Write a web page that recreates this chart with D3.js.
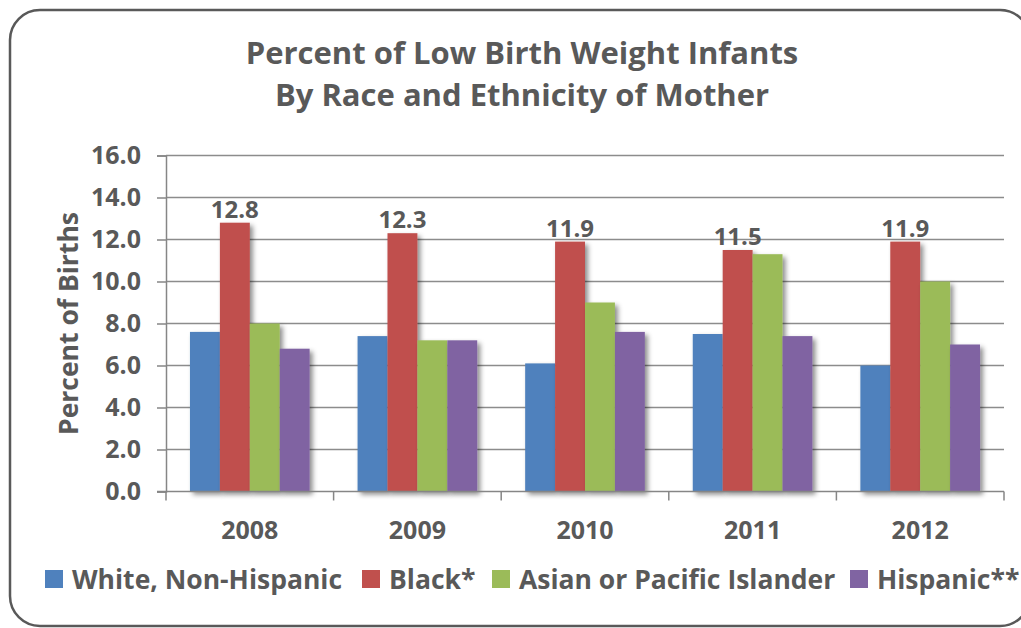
<!DOCTYPE html>
<html>
<head>
<meta charset="utf-8">
<script src="https://cdn.jsdelivr.net/npm/d3@7"></script>
<style>
  body { margin: 0; background: #fff; }
  text { font-family: "Open Sans", Lato, sans-serif; font-weight: bold; fill: #595959; }
</style>
</head>
<body>
<script>
const years = ['2008', '2009', '2010', '2011', '2012'];
const seriesNames = ['White, Non-Hispanic', 'Black*', 'Asian or Pacific Islander', 'Hispanic**'];
const white = [7.6, 7.4, 6.1, 7.5, 6.0];
const black = [12.8, 12.3, 11.9, 11.5, 11.9];
const asian = [8.0, 7.2, 9.0, 11.3, 10.0];
const hispanic = [6.8, 7.2, 7.6, 7.4, 7.0];
const yTicks = [0, 2, 4, 6, 8, 10, 12, 14, 16];
const colors = ['#4F81BD', '#C0504D', '#9BBB59', '#8064A2'];

const seriesValues = [white, black, asian, hispanic];
const data = years.map((y, i) => ({
  year: y,
  values: seriesNames.map((s, j) => ({ series: s, idx: j, value: seriesValues[j][i] }))
}));

const width = 1021;
const height = 628;
const plot = { left: 166, right: 1004, top: 155.5, bottom: 491.5 };

const svg = d3.select('body').append('svg')
  .attr('width', width)
  .attr('height', height);

const defs = svg.append('defs');
defs.append('filter')
  .attr('id', 'shadow')
  .attr('x', '-20%').attr('y', '-20%')
  .attr('width', '150%').attr('height', '150%')
  .append('feDropShadow')
  .attr('dx', 3).attr('dy', 3)
  .attr('stdDeviation', 2.5)
  .attr('flood-color', '#000')
  .attr('flood-opacity', 0.45);

// frame
svg.append('rect')
  .attr('x', 10).attr('y', 10)
  .attr('width', 1020).attr('height', 616)
  .attr('rx', 30).attr('ry', 30)
  .attr('fill', '#fff')
  .attr('stroke', '#595959')
  .attr('stroke-width', 2.5);

// title
svg.append('text')
  .attr('x', 522).attr('y', 64)
  .attr('text-anchor', 'middle')
  .style('font-size', '31px')
  .text('Percent of Low Birth Weight Infants');
svg.append('text')
  .attr('x', 522).attr('y', 106)
  .attr('text-anchor', 'middle')
  .style('font-size', '31px')
  .text('By Race and Ethnicity of Mother');

const x0 = d3.scaleBand()
  .domain(years)
  .range([plot.left, plot.right]);

const bw = x0.bandwidth();
const x1 = d3.scaleBand()
  .domain(d3.range(seriesNames.length))
  .range([bw * 0.143, bw * 0.857]);

const yScale = d3.scaleLinear()
  .domain([0, 16])
  .range([plot.bottom, plot.top]);

// gridlines
svg.append('g')
  .selectAll('line')
  .data(yTicks.filter(d => d > 0))
  .enter()
  .append('line')
  .attr('x1', plot.left).attr('x2', plot.right)
  .attr('y1', d => yScale(d)).attr('y2', d => yScale(d))
  .attr('stroke', '#8c8c8c')
  .attr('stroke-width', 1.5);

// y axis
const yAxis = d3.axisLeft(yScale)
  .tickValues(yTicks)
  .tickSize(9)
  .tickPadding(16)
  .tickFormat(d3.format('.1f'));

const yAxisG = svg.append('g')
  .attr('transform', `translate(${plot.left}, 0)`)
  .call(yAxis);
yAxisG.select('.domain').attr('stroke', '#868686').attr('stroke-width', 1.5);
yAxisG.selectAll('.tick line').attr('stroke', '#868686').attr('stroke-width', 1.5);
yAxisG.selectAll('.tick text')
  .style('font-size', '25px')
  .attr('fill', '#595959')
  .style('font-family', '"Open Sans", sans-serif');

// y title
svg.append('text')
  .attr('transform', `translate(78, ${(plot.top + plot.bottom) / 2}) rotate(-90)`)
  .attr('text-anchor', 'middle')
  .style('font-size', '26.5px')
  .text('Percent of Births');

// bars
const groups = svg.append('g')
  .selectAll('g')
  .data(data)
  .enter()
  .append('g')
  .attr('transform', d => `translate(${x0(d.year)}, 0)`);

groups.selectAll('rect')
  .data(d => d.values)
  .enter()
  .append('rect')
  .attr('x', d => x1(d.idx))
  .attr('width', x1.bandwidth())
  .attr('y', d => yScale(d.value))
  .attr('height', d => yScale(0) - yScale(d.value))
  .attr('fill', d => colors[d.idx])
  .attr('filter', 'url(#shadow)');

// value labels on Black* series
groups.append('text')
  .attr('x', d => x1(1) + x1.bandwidth() / 2)
  .attr('y', d => yScale(d.values[1].value) - 5)
  .attr('text-anchor', 'middle')
  .style('font-size', '24px')
  .text(d => d3.format('.1f')(d.values[1].value));

// x axis
const xAxisG = svg.append('g');
xAxisG.append('line')
  .attr('x1', plot.left - 9).attr('x2', plot.right)
  .attr('y1', plot.bottom).attr('y2', plot.bottom)
  .attr('stroke', '#868686')
  .attr('stroke-width', 1.5);
xAxisG.selectAll('.xtick')
  .data(years.map(d => x0(d)).concat([plot.right]))
  .enter()
  .append('line')
  .attr('class', 'xtick')
  .attr('x1', d => d).attr('x2', d => d)
  .attr('y1', plot.bottom).attr('y2', plot.bottom + 9)
  .attr('stroke', '#868686')
  .attr('stroke-width', 1.5);
xAxisG.selectAll('.xlabel')
  .data(years)
  .enter()
  .append('text')
  .attr('class', 'xlabel')
  .attr('x', d => x0(d) + bw / 2)
  .attr('y', 539)
  .attr('text-anchor', 'middle')
  .style('font-size', '25px')
  .text(d => d);

// legend
const legendX = [45, 362, 492, 850];
const legend = svg.append('g')
  .selectAll('g')
  .data(seriesNames)
  .enter()
  .append('g')
  .attr('transform', (d, i) => `translate(${legendX[i]}, 570)`);

legend.append('rect')
  .attr('width', 18).attr('height', 18)
  .attr('fill', (d, i) => colors[i]);

legend.append('text')
  .attr('x', 27).attr('y', 18.5)
  .style('font-size', '26.5px')
  .text(d => d);
</script>
</body>
</html>
